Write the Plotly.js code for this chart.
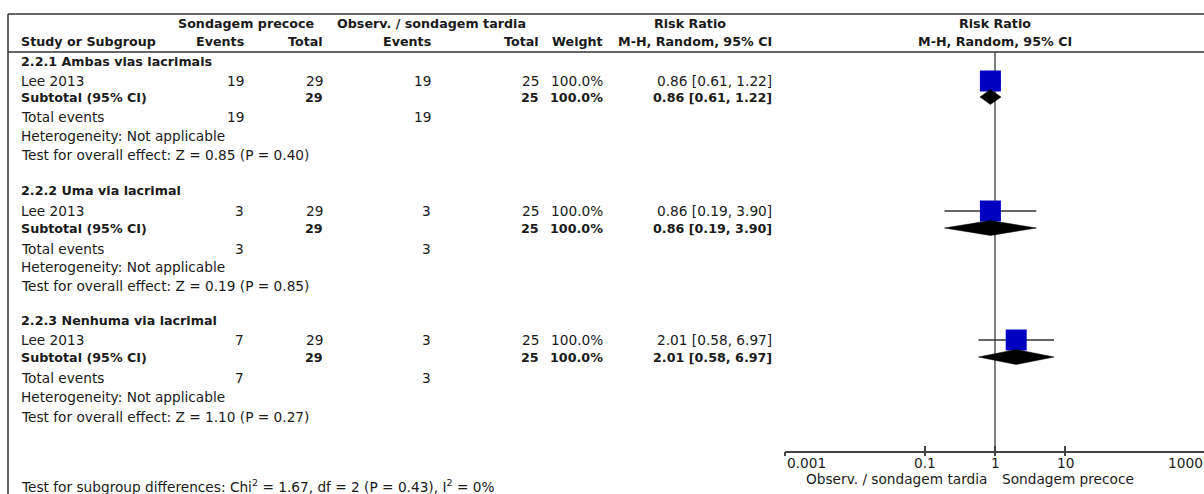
<!DOCTYPE html>
<html>
<head>
<meta charset="utf-8">
<script src="https://cdn.plot.ly/plotly-3.0.1.min.js"></script>
<style>
html, body { margin: 0; padding: 0; overflow: hidden; background: #fff; }
#chart { width: 1212px; height: 494px; }
</style>
</head>
<body>
<div id="chart"></div>
<script>
// ---------------- data ----------------
const subgroups = ["2.2.1 Ambas vias lacrimais", "2.2.2 Uma via lacrimal", "2.2.3 Nenhuma via lacrimal"];
const studies = ["Lee 2013", "Lee 2013", "Lee 2013"];
const eventsEarly = [19, 3, 7];
const totalEarly = [29, 29, 29];
const eventsLate = [19, 3, 3];
const totalLate = [25, 25, 25];
const weights = [100.0, 100.0, 100.0];
const rr = [0.86, 0.86, 2.01];
const ciLow = [0.61, 0.19, 0.58];
const ciHigh = [1.22, 3.90, 6.97];
const zValues = ["0.85", "0.19", "1.10"];
const pValues = ["0.40", "0.85", "0.27"];
const heterogeneity = ["Not applicable", "Not applicable", "Not applicable"];
const groupEarly = "Sondagem precoce";
const groupLate = "Observ. / sondagem tardia";
const tickVals = [0.001, 0.1, 1, 10, 1000];
const tickText = ["0.001", "0.1", "1", "10", "1000"];
const subgroupTest = "Test for subgroup differences: Chi<sup>2</sup> = 1.67, df = 2 (P = 0.43), I<sup>2</sup> = 0%";

// ---------------- layout constants ----------------
const W = 1212, H = 494;
const px = v => v / W;
const FONT = "DejaVu Sans";
const FS = 13.7, FSB = 12.7;
const TXT = "#1a1a1a";
const rows = [
  {title: 61, study: 81, sub: 97, tot: 117, het: 136, test: 155},
  {title: 190, study: 211, sub: 228, tot: 249, het: 267, test: 286},
  {title: 320, study: 340, sub: 357, tot: 378, het: 397, test: 417}
];
const col = {name: 19, ev1: 246, tot1: 325, ev2: 433, tot2: 541, wt: 605, ci: 774, plotCenter: 995};
const axisY = 451;

const ann = [];
function txt(x, y, text, anchor, bold) {
  ann.push({
    xref: "paper", yref: "y", x: px(x), y: y, xanchor: anchor, yanchor: "middle",
    text: bold ? "<b>" + text + "</b>" : text, showarrow: false,
    font: {family: FONT, size: bold ? FSB : FS, color: TXT}
  });
}

// headers
txt(246, 23, groupEarly, "center", true);
txt(431, 23, groupLate, "center", true);
txt(690, 23, "Risk Ratio", "center", true);
txt(col.plotCenter, 23, "Risk Ratio", "center", true);
txt(col.name, 41, "Study or Subgroup", "left", true);
txt(col.ev1, 41, "Events", "right", true);
txt(col.tot1, 41, "Total", "right", true);
txt(col.ev2, 41, "Events", "right", true);
txt(col.tot2, 41, "Total", "right", true);
txt(col.wt, 41, "Weight", "right", true);
txt(col.ci, 41, "M-H, Random, 95% CI", "right", true);
txt(col.plotCenter, 41, "M-H, Random, 95% CI", "center", true);

const fmtCI = i => rr[i].toFixed(2) + " [" + ciLow[i].toFixed(2) + ", " + ciHigh[i].toFixed(2) + "]";

for (let i = 0; i < subgroups.length; i++) {
  const r = rows[i];
  txt(col.name, r.title, subgroups[i], "left", true);
  txt(col.name, r.study, studies[i], "left", false);
  txt(col.ev1, r.study, String(eventsEarly[i]), "right", false);
  txt(col.tot1, r.study, String(totalEarly[i]), "right", false);
  txt(col.ev2, r.study, String(eventsLate[i]), "right", false);
  txt(col.tot2, r.study, String(totalLate[i]), "right", false);
  txt(col.wt, r.study, weights[i].toFixed(1) + "%", "right", false);
  txt(col.ci, r.study, fmtCI(i), "right", false);
  txt(col.name, r.sub, "Subtotal (95% CI)", "left", true);
  txt(col.tot1, r.sub, String(totalEarly[i]), "right", true);
  txt(col.tot2, r.sub, String(totalLate[i]), "right", true);
  txt(col.wt, r.sub, weights[i].toFixed(1) + "%", "right", true);
  txt(col.ci, r.sub, fmtCI(i), "right", true);
  txt(col.name, r.tot, "Total events", "left", false);
  txt(col.ev1, r.tot, String(eventsEarly[i]), "right", false);
  txt(col.ev2, r.tot, String(eventsLate[i]), "right", false);
  txt(col.name, r.het, "Heterogeneity: " + heterogeneity[i], "left", false);
  txt(col.name, r.test, "Test for overall effect: Z = " + zValues[i] + " (P = " + pValues[i] + ")", "left", false);
}
txt(col.name, 486, subgroupTest, "left", false);

// tick labels under the axis (library x scale)
tickVals.forEach((v, k) => {
  ann.push({
    xref: "x", yref: "y", x: Math.log10(v), y: 463,
    xanchor: k === 0 ? "left" : (k === tickVals.length - 1 ? "right" : "center"),
    yanchor: "middle", text: tickText[k], showarrow: false,
    font: {family: FONT, size: FS, color: TXT}
  });
});
// favours labels
ann.push({xref: "x", yref: "y", x: Math.log10(1), xshift: -6, y: 479, xanchor: "right", yanchor: "middle",
  text: groupLate, showarrow: false, font: {family: FONT, size: FS, color: TXT}});
ann.push({xref: "x", yref: "y", x: Math.log10(1), xshift: 5, y: 479, xanchor: "left", yanchor: "middle",
  text: groupEarly, showarrow: false, font: {family: FONT, size: FS, color: TXT}});

// ---------------- traces ----------------
const traces = [];
for (let i = 0; i < rr.length; i++) {
  traces.push({
    x: [ciLow[i], ciHigh[i]], y: [rows[i].study, rows[i].study], xaxis: "x", yaxis: "y",
    mode: "lines", line: {color: "#333", width: 1.3}, hoverinfo: "skip", showlegend: false
  });
}
traces.push({
  x: rr, y: rows.map(r => r.study), xaxis: "x", yaxis: "y", mode: "markers",
  marker: {symbol: "square", color: "#0000c0", opacity: 1, size: weights.map(w => 21 * Math.sqrt(w / 100)), line: {width: 0}},
  hoverinfo: "skip", showlegend: false
});
const dh = 7.5;
for (let i = 0; i < rr.length; i++) {
  const y = rows[i].sub;
  traces.push({
    x: [ciLow[i], rr[i], ciHigh[i], rr[i], ciLow[i]],
    y: [y, y - dh, y, y + dh, y], xaxis: "x", yaxis: "y",
    mode: "lines", fill: "toself", fillcolor: "#000", line: {color: "#000", width: 0.5},
    hoverinfo: "skip", showlegend: false
  });
}
// dummy trace for the second (downward tick) axis
traces.push({x: [1], y: [600], xaxis: "x2", yaxis: "y", mode: "markers", marker: {opacity: 0}, hoverinfo: "skip", showlegend: false});

const axPos = (H - axisY) / H;
const dom = [785 / W, 1205 / W];
const layout = {
  width: W, height: H,
  margin: {l: 0, r: 0, t: 0, b: 0},
  paper_bgcolor: "#fff", plot_bgcolor: "rgba(0,0,0,0)",
  showlegend: false,
  xaxis: {
    type: "log", range: [-3, 3], domain: dom, anchor: "free", position: axPos,
    showline: true, linecolor: "#444", linewidth: 1.5, mirror: false,
    ticks: "inside", ticklen: 5, tickwidth: 1.5, tickcolor: "#444",
    tickvals: tickVals, showticklabels: false, showgrid: false, zeroline: false, fixedrange: true
  },
  xaxis2: {
    type: "log", range: [-3, 3], domain: dom, anchor: "free", position: axPos, overlaying: "x",
    showline: false, ticks: "outside", ticklen: 4, tickwidth: 1.5, tickcolor: "#444",
    tickvals: tickVals, showticklabels: false, showgrid: false, zeroline: false, fixedrange: true
  },
  yaxis: {range: [H, 0], domain: [0, 1], visible: false, fixedrange: true},
  shapes: [
    {type: "line", xref: "paper", yref: "y", x0: px(8), x1: 1, y0: 14, y1: 14, line: {color: "#333", width: 1.5}},
    {type: "line", xref: "paper", yref: "y", x0: px(8), x1: 1, y0: 52, y1: 52, line: {color: "#333", width: 1.5}},
    {type: "line", xref: "paper", yref: "y", x0: px(8), x1: px(8), y0: 14, y1: H, line: {color: "#333", width: 1.5}},
    {type: "line", xref: "x", yref: "y", x0: 1, x1: 1, y0: 52, y1: axisY, line: {color: "#555", width: 1.5}, layer: "below"}
  ],
  annotations: ann
};

Plotly.newPlot("chart", traces, layout, {staticPlot: true, displayModeBar: false});
</script>
</body>
</html>
